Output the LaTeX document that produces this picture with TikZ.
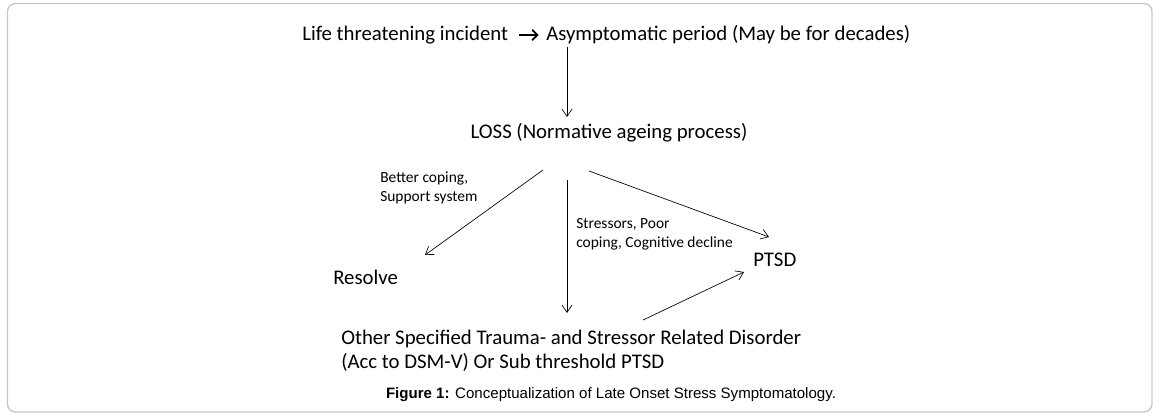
\documentclass[tikz,border=0pt]{standalone}
\usepackage{fontspec}
\setmainfont{Carlito}
\newfontfamily\capfont{Liberation Sans}
\usetikzlibrary{arrows.meta}

\begin{document}
\begin{tikzpicture}[x=0.75pt, y=-0.75pt,
  big/.style = {inner sep=0pt, font=\fontsize{15.6}{17.5}\selectfont},
  small/.style = {inner sep=0pt, align=left, font=\fontsize{11.6}{14.3}\selectfont},
  arr/.style = {-{Straight Barb[length=5.5pt,width=7.5pt]}, line width=0.5pt}]
  \useasboundingbox (0,0) rectangle (1160,419);
  \draw[black!22, line width=1pt, rounded corners=6] (7.5,3.5) rectangle (1152,412);
  \node[big, anchor=west] (life) at (302,35) {Life threatening incident};
  \node[big, anchor=west] (asym) at (546,35) {Asymptomatic period (May be for decades)};
  \node[big] (loss) at (609,133) {LOSS (Normative ageing process)};
  \node[big, anchor=west] (resolve) at (333,277) {Resolve};
  \node[big, anchor=west] (ptsd) at (753,260) {PTSD};
  \node[big, anchor=north west, align=left] (other) at (341,330)
    {Other Specified Trauma- and Stressor Related Disorder\\(Acc to DSM-V) Or Sub threshold PTSD};
  \node[small, anchor=north west] (cope) at (380,172) {Better coping,\\Support system};
  \node[small, anchor=north west] (stress) at (576,218) {Stressors, Poor\\coping, Cognitive decline};
  \node[inner sep=0pt, font=\capfont\fontsize{11.3}{13}\selectfont] (cap) at (611,395)
    {\textbf{Figure 1:} Conceptualization of Late Onset Stress Symptomatology.};
  \draw[-{Straight Barb[length=4pt,width=8pt]}, line width=1.3pt, shorten <=8, shorten >=5.5] (life.east) -- (asym.west);
  \draw[arr] ([shift={(21,12)}]asym.west) -- ([shift={(-42,-16)}]loss.center);
  \draw[arr] ([shift={(-66,37)}]loss.center) -- ([shift={(92,-22)}]resolve.west);
  \draw[arr] ([shift={(-42,47)}]loss.center) -- ([shift={(226,-17)}]other.north west);
  \draw[arr] ([shift={(-20,38)}]loss.center) -- ([shift={(16,-23)}]ptsd.west);
  \draw[arr] ([shift={(-110,60)}]ptsd.west) -- ([shift={(-9,12)}]ptsd.west);
\end{tikzpicture}
\end{document}
